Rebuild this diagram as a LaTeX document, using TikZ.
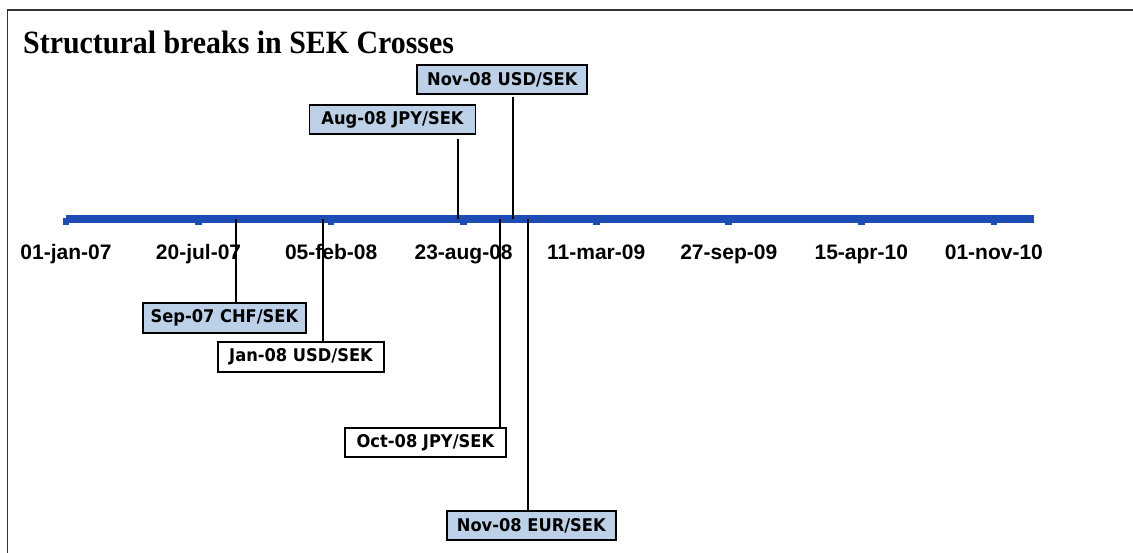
\documentclass[tikz,border=0pt]{standalone}
\usepackage{fontspec}
\setmainfont{Liberation Serif}
\newfontfamily\titlefont[FakeStretch=0.92]{Liberation Serif}
\newfontfamily\axisfont{Liberation Sans}
\newfontfamily\boxfont[FakeStretch=0.93]{DejaVu Sans}
\definecolor{barblue}{HTML}{1D4DB4}
\definecolor{boxblue}{HTML}{BCD0E8}
\definecolor{framegray}{HTML}{333333}
\tikzset{
  brk/.style={draw=black, line width=1.7pt, inner sep=0pt, align=center,
    font=\boxfont\bfseries\fontsize{17.5}{20}\selectfont, text=black},
  brkblue/.style={brk, fill=boxblue},
  brkwhite/.style={brk, fill=white},
  conn/.style={draw=black, line width=1.8pt},
  datelbl/.style={anchor=base, inner sep=0pt, font=\axisfont\bfseries\fontsize{21}{25}\selectfont},
  tickmark/.style={fill=barblue, draw=none},
}
\begin{document}
\begin{tikzpicture}[x=1pt, y=-1pt]
\useasboundingbox (0,0) rectangle (1133,553);
% frame
\coordinate (fbl) at (7.3,553);
\coordinate (ftl) at (7.3,10);
\coordinate (ftr) at (1133,10);
\draw[framegray, line width=1.6pt] (fbl) -- (ftl) -- (ftr);
% title
\node[anchor=base west, inner sep=0pt, font=\titlefont\bfseries\fontsize{32.5}{38}\selectfont] (title) at (23,53.3) {Structural breaks in SEK Crosses};
% axis bar
\coordinate (barL) at (66,218.8);
\coordinate (barR) at (1033.7,218.8);
\draw[barblue, line width=7.6pt] (barL) -- (barR);
% ticks and labels
\foreach \i/\lab in {0/01-jan-07,1/20-jul-07,2/05-feb-08,3/23-aug-08,4/11-mar-09,5/27-sep-09,6/15-apr-10,7/01-nov-10}{
  \pgfmathsetmacro{\tx}{66+132.55*\i}
  \fill[tickmark] (\tx-3.3,218) rectangle (\tx+3.3,225.5);
  \node[datelbl] (d\i) at (\tx,260) {\lab};
}
% boxes
\node[brkblue, minimum width=170pt, minimum height=29.6pt] (nusd) at (502.3,79.5) {Nov-08 USD/SEK};
\node[brkblue, minimum width=166pt, minimum height=29pt] (aug) at (392.5,119.5) {Aug-08 JPY/SEK};
\node[brkblue, minimum width=163.3pt, minimum height=30pt] (sep) at (224.4,317.9) {Sep-07 CHF/SEK};
\node[brkwhite, minimum width=166pt, minimum height=29.7pt] (jan) at (301,356.9) {Jan-08 USD/SEK};
\node[brkwhite, minimum width=160.7pt, minimum height=28.7pt] (oct) at (425.4,442.3) {Oct-08 JPY/SEK};
\node[brkblue, minimum width=168.7pt, minimum height=29pt] (eur) at (531.3,525.5) {Nov-08 EUR/SEK};
% connector anchors on the bar
\coordinate (pnusd) at (513,219);
\coordinate (paug) at (458,219);
\coordinate (psep) at (236,219);
\coordinate (pjan) at (323,219);
\coordinate (poct) at (500,219);
\coordinate (peur) at (528,219);
% connectors
\draw[conn] (pnusd |- nusd.south) ++(0,1.5) -- (pnusd);
\draw[conn] (paug |- aug.south) ++(0,4) -- (paug);
\draw[conn] (psep) -- (psep |- sep.north);
\draw[conn] (pjan) -- (pjan |- jan.north);
\draw[conn] (poct) -- (poct |- oct.north);
\draw[conn] (peur) -- (peur |- eur.north);
\end{tikzpicture}
\end{document}
